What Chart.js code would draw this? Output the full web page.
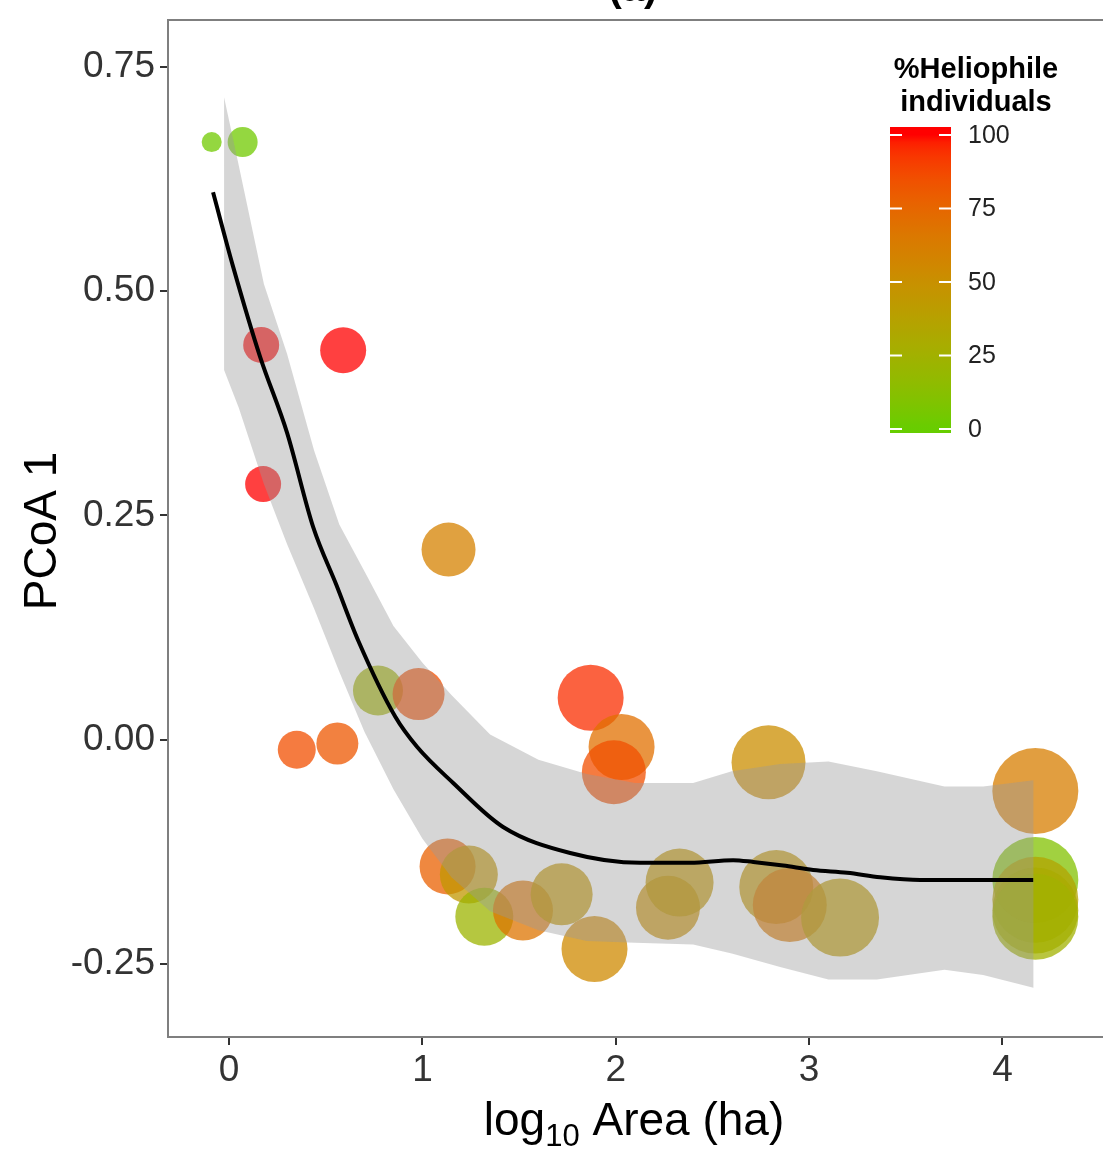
<!DOCTYPE html>
<html>
<head>
<meta charset="utf-8">
<script src="https://cdn.jsdelivr.net/npm/chart.js@4.4.0/dist/chart.umd.min.js"></script>
<style>
  html, body { margin: 0; padding: 0; background: #fff; overflow: hidden; }
  canvas { display: block; }
</style>
</head>
<body>
<canvas id="pcoa-chart" width="1103" height="1151"></canvas>
<script>
// sites: log10 area, first PCoA axis, % heliophile individuals, bubble size
const logArea = [-0.09, 0.07, 0.166, 0.59, 0.176, 1.135, 0.77, 0.98, 0.35, 0.56,
    1.87, 2.03, 1.99, 2.79, 4.17, 1.13, 1.24, 1.32, 1.52, 1.72,
    1.89, 2.27, 2.33, 2.83, 2.90, 3.16, 4.17, 4.17, 4.17, 4.17];
const pcoa1 = [0.666, 0.666, 0.440, 0.434, 0.285, 0.212, 0.055, 0.051, -0.011, -0.004,
    0.047, -0.008, -0.036, -0.025, -0.057, -0.141, -0.150, -0.197, -0.190, -0.172,
    -0.233, -0.187, -0.159, -0.164, -0.184, -0.198, -0.156, -0.178, -0.190, -0.197];
const heliophilePct = [3, 3, 100, 100, 100, 60, 25, 85, 85, 82,
    95, 70, 85, 52, 62, 78, 45, 22, 68, 45,
    55, 50, 45, 45, 65, 42, 10, 35, 30, 25];
const bubbleSize = [10, 15, 18, 23, 18, 27, 25, 26, 19, 21,
    33, 33, 32, 37, 43, 28, 29, 29, 30, 31,
    33, 32, 34, 37, 37, 39, 43, 43, 43, 43];

// loess fit and its confidence band
const smoothX = [-0.083, 0.021, 0.16, 0.30, 0.435, 0.554, 0.667, 0.859, 0.973, 1.159, 1.417,
    1.764, 2.126, 2.385, 2.607, 2.711, 2.866, 3.021, 3.197, 3.368, 3.575, 4.159];
const smoothY = [0.610, 0.527, 0.427, 0.342, 0.237, 0.173, 0.111, 0.026, -0.008, -0.048, -0.097,
    -0.126, -0.137, -0.137, -0.134, -0.136, -0.140, -0.145, -0.148, -0.153, -0.156, -0.156];
const bandX = [-0.026, 0.05, 0.18, 0.30, 0.44, 0.57, 0.70, 0.85, 1.0, 1.15, 1.35,
    1.6, 1.85, 2.1, 2.4, 2.6, 2.85, 3.1, 3.35, 3.7, 3.9, 4.16];
const bandUpper = [0.716, 0.640, 0.508, 0.430, 0.322, 0.240, 0.188, 0.127, 0.086, 0.050, 0.006,
    -0.022, -0.038, -0.048, -0.048, -0.035, -0.027, -0.024, -0.035, -0.052, -0.052, -0.045];
const bandLower = [0.412, 0.370, 0.285, 0.218, 0.146, 0.076, 0.009, -0.055, -0.110, -0.153, -0.191,
    -0.212, -0.224, -0.226, -0.228, -0.238, -0.253, -0.267, -0.267, -0.256, -0.262, -0.276];

const xTicks = [0, 1, 2, 3, 4];
const yTicks = [-0.25, 0, 0.25, 0.5, 0.75];
const legendTicks = [0, 25, 50, 75, 100];

const LOW_COLOR = '#66CD00';
const HIGH_COLOR = '#FF0000';
const FONT = '"Liberation Sans", Arial, sans-serif';

// ---- colour scale: interpolate in Lab like ggplot's scale_colour_gradient ----
function hexToRgb(hex) {
    const n = parseInt(hex.slice(1), 16);
    return [(n >> 16) & 255, (n >> 8) & 255, n & 255];
}

function rgbToLab(rgb) {
    const lin = rgb.map((c) => {
        c /= 255;
        return c <= 0.04045 ? c / 12.92 : Math.pow((c + 0.055) / 1.055, 2.4);
    });
    const X = (0.4124 * lin[0] + 0.3576 * lin[1] + 0.1805 * lin[2]) / 0.95047;
    const Y = (0.2126 * lin[0] + 0.7152 * lin[1] + 0.0722 * lin[2]);
    const Z = (0.0193 * lin[0] + 0.1192 * lin[1] + 0.9505 * lin[2]) / 1.08883;
    const f = (t) => (t > 0.008856 ? Math.cbrt(t) : 7.787 * t + 16 / 116);
    const fx = f(X), fy = f(Y), fz = f(Z);
    return [116 * fy - 16, 500 * (fx - fy), 200 * (fy - fz)];
}

function labToRgb(lab) {
    const fy = (lab[0] + 16) / 116;
    const fx = fy + lab[1] / 500;
    const fz = fy - lab[2] / 200;
    const inv = (t) => (t * t * t > 0.008856 ? t * t * t : (t - 16 / 116) / 7.787);
    const X = inv(fx) * 0.95047, Y = inv(fy), Z = inv(fz) * 1.08883;
    const lin = [
        3.2406 * X - 1.5372 * Y - 0.4986 * Z,
        -0.9689 * X + 1.8758 * Y + 0.0415 * Z,
        0.0557 * X - 0.2040 * Y + 1.0570 * Z,
    ];
    return lin.map((c) => {
        c = c <= 0.0031308 ? 12.92 * c : 1.055 * Math.pow(c, 1 / 2.4) - 0.055;
        return Math.round(Math.min(1, Math.max(0, c)) * 255);
    });
}

const lowLab = rgbToLab(hexToRgb(LOW_COLOR));
const highLab = rgbToLab(hexToRgb(HIGH_COLOR));

function pctColor(pct, alpha) {
    const t = Math.min(1, Math.max(0, pct / 100));
    const lab = lowLab.map((v, i) => v + (highLab[i] - v) * t);
    const [r, g, b] = labToRgb(lab);
    return `rgba(${r},${g},${b},${alpha})`;
}

// scales reserve room for half-labels at their ends; the panel here runs to the edges
function dropScalePadding(axis) {
    axis.paddingTop = 0;
    axis.paddingBottom = 0;
    axis.paddingLeft = 0;
    axis.paddingRight = 0;
}

// ---- extra drawing: panel border, titles, colour bar ----
const decorPlugin = {
    id: 'decor',
    afterDraw(chart) {
        const { ctx, chartArea } = chart;
        const { left, top, right, bottom } = chartArea;
        ctx.save();

        ctx.strokeStyle = '#7f7f7f';
        ctx.lineWidth = 2;
        ctx.beginPath();
        ctx.moveTo(right + 2, top);
        ctx.lineTo(left, top);
        ctx.lineTo(left, bottom);
        ctx.lineTo(right + 2, bottom);
        ctx.stroke();

        // panel title, mostly cut off by the top edge
        ctx.fillStyle = '#000';
        ctx.font = `bold 40px ${FONT}`;
        ctx.textAlign = 'center';
        ctx.textBaseline = 'alphabetic';
        ctx.fillText('(a)', 633, 1);

        // y title
        ctx.save();
        ctx.translate(56, 531);
        ctx.rotate(-Math.PI / 2);
        ctx.font = `46px ${FONT}`;
        ctx.textAlign = 'center';
        ctx.fillText('PCoA 1', 0, 0);
        ctx.restore();

        // x title with subscript
        const big = `46px ${FONT}`;
        const small = `31px ${FONT}`;
        ctx.textAlign = 'left';
        ctx.font = big;
        const wLog = ctx.measureText('log').width;
        const wRest = ctx.measureText(' Area (ha)').width;
        ctx.font = small;
        const wSub = ctx.measureText('10').width;
        let x = 634 - (wLog + wSub + wRest) / 2;
        const base = 1135;
        ctx.font = big;
        ctx.fillText('log', x, base);
        x += wLog;
        ctx.font = small;
        ctx.fillText('10', x, base + 11);
        x += wSub;
        ctx.font = big;
        ctx.fillText(' Area (ha)', x, base);

        // colour bar legend
        const barL = 890, barR = 951, barT = 127, barB = 433;
        const y0 = 429, y100 = 135;
        const grad = ctx.createLinearGradient(0, barB, 0, barT);
        for (let i = 0; i <= 40; i++) {
            const y = barB - (barB - barT) * i / 40;
            const pct = 100 * (y0 - y) / (y0 - y100);
            grad.addColorStop(i / 40, pctColor(pct, 1));
        }
        ctx.fillStyle = grad;
        ctx.fillRect(barL, barT, barR - barL, barB - barT);

        ctx.strokeStyle = '#fff';
        ctx.lineWidth = 2;
        ctx.font = `25px ${FONT}`;
        ctx.fillStyle = '#222';
        ctx.textBaseline = 'middle';
        legendTicks.forEach((v) => {
            const y = y0 - (y0 - y100) * v / 100;
            ctx.beginPath();
            ctx.moveTo(barL, y);
            ctx.lineTo(barL + 12, y);
            ctx.moveTo(barR - 12, y);
            ctx.lineTo(barR, y);
            ctx.stroke();
            ctx.fillText(String(v), 968, y + 1);
        });

        ctx.fillStyle = '#000';
        ctx.font = `bold 29px ${FONT}`;
        ctx.textAlign = 'center';
        ctx.textBaseline = 'alphabetic';
        ctx.fillText('%Heliophile', 976, 78);
        ctx.fillText('individuals', 976, 111);

        ctx.restore();
    },
};

function initPcoaChart() {
    const canvas = document.getElementById('pcoa-chart');
    if (!canvas || typeof Chart === 'undefined') return;

    const bubbles = logArea.map((x, i) => ({ x, y: pcoa1[i], r: bubbleSize[i] }));
    const bubbleColors = heliophilePct.map((p) => pctColor(p, 0.75));
    const band = bandX.map((x, i) => ({ x, y: bandUpper[i] }))
        .concat(bandX.map((x, i) => ({ x, y: bandLower[i] })).reverse());
    const fit = smoothX.map((x, i) => ({ x, y: smoothY[i] }));

    const tickFont = { family: FONT, size: 37 };

    new Chart(canvas.getContext('2d'), {
        type: 'bubble',
        data: {
            datasets: [
                {
                    type: 'bubble',
                    data: bubbles,
                    backgroundColor: bubbleColors,
                    borderWidth: 0,
                    hoverBorderWidth: 0,
                    order: 3,
                },
                {
                    type: 'scatter',
                    data: band,
                    showLine: true,
                    fill: 'shape',
                    backgroundColor: 'rgba(153,153,153,0.4)',
                    borderWidth: 0,
                    borderColor: 'rgba(0,0,0,0)',
                    pointRadius: 0,
                    tension: 0,
                    order: 2,
                },
                {
                    type: 'scatter',
                    data: fit,
                    showLine: true,
                    fill: false,
                    borderColor: '#000',
                    borderWidth: 4,
                    pointRadius: 0,
                    cubicInterpolationMode: 'monotone',
                    order: 1,
                },
            ],
        },
        options: {
            responsive: false,
            animation: false,
            layout: { autoPadding: false, padding: { top: 20, right: 0, left: 0, bottom: 0 } },
            plugins: {
                legend: { display: false },
                tooltip: { enabled: false },
            },
            scales: {
                x: {
                    type: 'linear',
                    min: -0.316,
                    max: 4.52,
                    afterBuildTicks: (axis) => { axis.ticks = xTicks.map((v) => ({ value: v })); },
                    afterFit: (axis) => { axis.height = 114; dropScalePadding(axis); },
                    border: { display: false },
                    grid: { drawOnChartArea: false, drawTicks: true, tickLength: 8, color: '#333', lineWidth: 2 },
                    ticks: { font: tickFont, color: '#333', padding: 4, maxRotation: 0, callback: (v) => String(v) },
                },
                y: {
                    type: 'linear',
                    min: -0.331,
                    max: 0.802,
                    afterBuildTicks: (axis) => { axis.ticks = yTicks.map((v) => ({ value: v })); },
                    afterFit: (axis) => { axis.width = 168; dropScalePadding(axis); },
                    border: { display: false },
                    grid: { drawOnChartArea: false, drawTicks: true, tickLength: 8, color: '#333', lineWidth: 2 },
                    ticks: { font: tickFont, color: '#333', padding: 5, callback: (v) => Number(v).toFixed(2) },
                },
            },
        },
        plugins: [decorPlugin],
    });
}

document.addEventListener('DOMContentLoaded', initPcoaChart);
</script>
</body>
</html>
